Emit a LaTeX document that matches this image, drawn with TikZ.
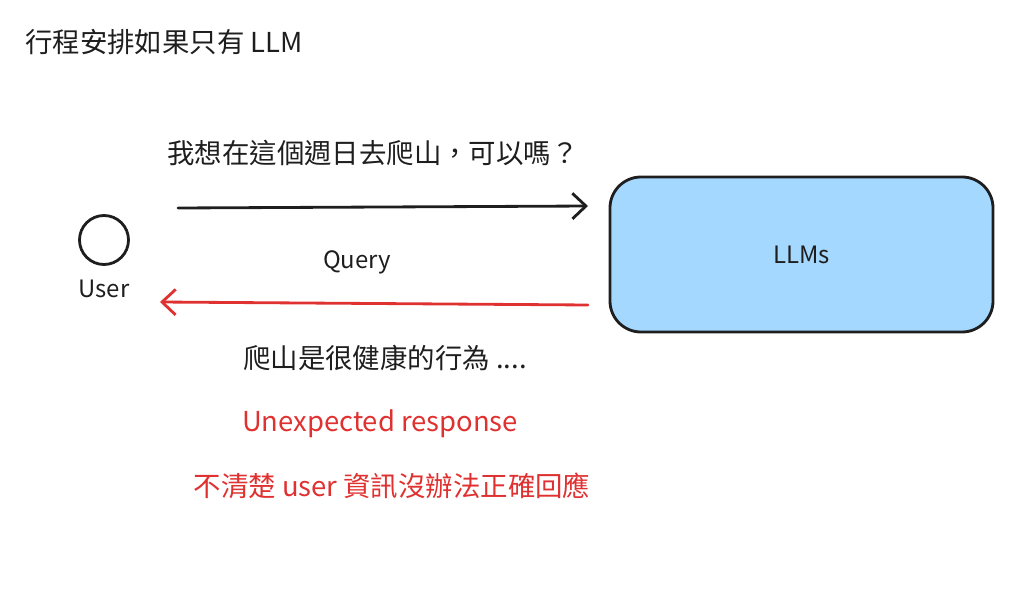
\documentclass[tikz,border=0pt]{standalone}
\usepackage{fontspec}
\setmainfont{Noto Sans CJK TC}
\usetikzlibrary{positioning, arrows.meta}
\definecolor{ink}{HTML}{1E1E1E}
\definecolor{alert}{HTML}{E03131}
\definecolor{llmblue}{HTML}{A5D8FF}

\begin{document}
\begin{tikzpicture}[
    x=0.025cm, y=-0.025cm,
    >={Straight Barb[length=3.4mm,width=6.4mm,line width=2pt]},
    big/.style={font=\fontsize{19.5}{23}\selectfont, text=ink, inner sep=0pt},
    small/.style={font=\fontsize{17}{20}\selectfont, text=ink, inner sep=0pt},
    arr/.style={->, line width=2pt, line cap=round},
    llmbox/.style={draw=ink, line width=2pt, fill=llmblue, rounded corners=22pt,
      minimum width=383*0.025cm, minimum height=155*0.025cm}
  ]
\useasboundingbox (0,0) rectangle (1022,592);

% =================== title ===================
\node[big, anchor=west] (title) at (25,42) {行程安排如果只有 LLM};

% =================== user ===================
\node[draw=ink, line width=2pt, circle, minimum size=49*0.025cm, inner sep=0pt] (user) at (104,240) {};
\node[small] (userlbl) at (104,289) {User};

% =================== LLM box ===================
\node[llmbox] (llm) at (801.5,254.5) {};
\node[small] (llmlbl) at (llm.center) {LLMs};

% =================== request ===================
\coordinate (qstart) at (178,208);
\coordinate (qend) at (588,206);
\draw[arr, ink] (qstart) -- (qend);
\node[big] (ask) at (373,153) {我想在這個週日去爬山，可以嗎？};
\node[small] (query) at (357,262) {Query};

% =================== response ===================
\coordinate (rstart) at (588,305);
\coordinate (rend) at (160,302);
\draw[arr, alert] (rstart) -- (rend);
\node[big, anchor=west] (answer) at (243,358) {爬山是很健康的行為 ....};
\node[big, text=alert] (unexp) at (380,424) {Unexpected response};
\node[big, text=alert] (reason) at (392,486) {不清楚 user 資訊沒辦法正確回應};

\end{tikzpicture}
\end{document}
